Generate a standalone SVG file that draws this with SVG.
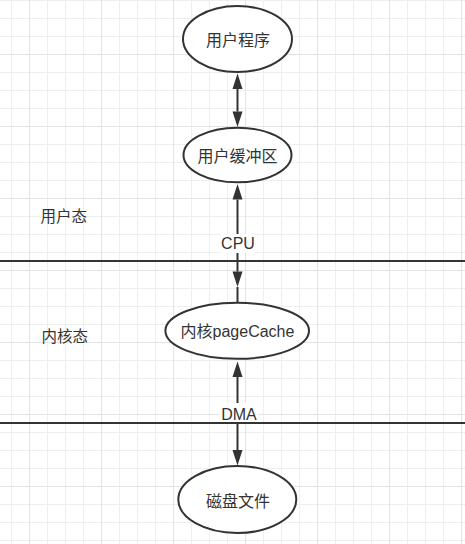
<svg xmlns="http://www.w3.org/2000/svg" width="465" height="544" viewBox="0 0 465 544">
<defs>
<pattern id="grid" patternUnits="userSpaceOnUse" x="29" y="54" width="72" height="72">
<path d="M18.5 0V72M36.5 0V72M54.5 0V72M0 18.5H72M0 36.5H72M0 54.5H72" stroke="#efefef" stroke-width="1" fill="none"/>
<path d="M0.5 0V72M0 0.5H72" stroke="#e3e3e3" stroke-width="1" fill="none"/>
</pattern>
<marker id="head" markerUnits="userSpaceOnUse" markerWidth="16" markerHeight="11" refX="0" refY="5" orient="auto-start-reverse" overflow="visible">
<path d="M0 0L15.5 5L0 10z" fill="#333"/>
</marker>
<style>
.node ellipse{fill:#fff;stroke:#333;stroke-width:2}
.lbl{font-family:"Liberation Sans","Noto Sans CJK SC",sans-serif;font-size:16px;fill:#333;text-anchor:middle;dominant-baseline:central}
.side{font-family:"Liberation Sans","Noto Sans CJK SC",sans-serif;font-size:15.5px;fill:#333}
.edge{stroke:#333;stroke-width:2;fill:none}
.elbl{font-family:"Liberation Sans","Noto Sans CJK SC",sans-serif;font-size:16px;fill:#333;text-anchor:middle;dominant-baseline:central}
.divider{stroke:#333;stroke-width:2}
</style>
</defs>
<rect width="465" height="544" fill="#fff"/>
<rect width="465" height="544" fill="url(#grid)"/>

<g id="connectors">
<path class="edge" d="M237.5 89V111.5" marker-start="url(#head)" marker-end="url(#head)"/>
<g id="edge-cpu">
<path class="edge" d="M237.5 199.5V271.5" marker-start="url(#head)" marker-end="url(#head)"/>
<path class="edge" d="M237.5 287V302"/>
<rect x="221" y="234" width="34" height="19" fill="#fff"/>
<text class="elbl" x="238" y="243.5">CPU</text>
</g>
<g id="edge-dma">
<path class="edge" d="M237.5 377V450" marker-start="url(#head)" marker-end="url(#head)"/>
<rect x="219" y="403" width="39" height="19" fill="#fff"/>
<text class="elbl" x="239" y="414">DMA</text>
</g>
</g>

<g id="dividers">
<line class="divider" x1="0" y1="261" x2="465" y2="261"/>
<line class="divider" x1="0" y1="423" x2="465" y2="423"/>
</g>

<text class="side" x="40.5" y="222">用户态</text>
<text class="side" x="41.5" y="342">内核态</text>

<g id="node-user-program" class="node">
<ellipse cx="237.5" cy="39" rx="54.5" ry="33"/>
<text class="lbl" x="238" y="40.5">用户程序</text>
</g>
<g id="node-user-buffer" class="node">
<ellipse cx="237.5" cy="155" rx="54" ry="27.3"/>
<text class="lbl" x="237.5" y="156">用户缓冲区</text>
</g>
<g id="node-pagecache" class="node">
<ellipse cx="237.2" cy="330.8" rx="71.8" ry="28"/>
<text class="lbl" x="237.5" y="331.5">内核pageCache</text>
</g>
<g id="node-disk" class="node">
<ellipse cx="237.3" cy="499.5" rx="59" ry="33.5"/>
<text class="lbl" x="238" y="501.5">磁盘文件</text>
</g>
</svg>
